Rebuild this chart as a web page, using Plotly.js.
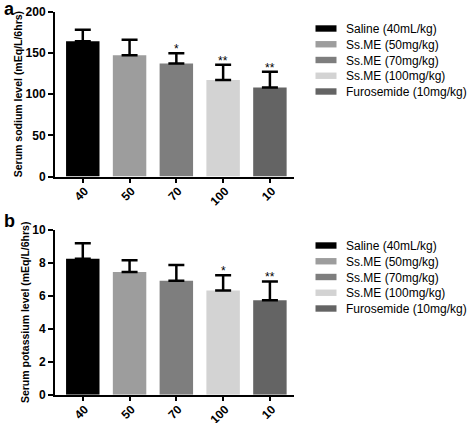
<!DOCTYPE html>
<html>
<head>
<meta charset="utf-8">
<script src="https://cdn.plot.ly/plotly-3.0.1.min.js"></script>
<style>
html,body{margin:0;padding:0;background:#fff;}
#chart{width:472px;height:423px;}
</style>
</head>
<body>
<div id="chart"></div>
<script>
// ---- data ----
const categories = ['40', '50', '70', '100', '10'];
const groups = ['Saline (40mL/kg)', 'Ss.ME (50mg/kg)', 'Ss.ME (70mg/kg)', 'Ss.ME (100mg/kg)', 'Furosemide (10mg/kg)'];
const sodiumMean = [164, 147, 137, 117, 108];
const sodiumErr = [14, 19, 12.5, 18.5, 19];
const sodiumSig = ['', '', '*', '**', '**'];
const potassiumMean = [8.25, 7.45, 6.92, 6.33, 5.73];
const potassiumErr = [0.95, 0.72, 0.95, 0.92, 1.15];
const potassiumSig = ['', '', '', '*', '**'];
const colors = ['#000000', '#9d9d9d', '#7e7e7e', '#d3d3d3', '#646464'];

const W = 472, H = 423;
const ML = 55, MR = 163;
const PW = W - ML - MR;
const FONT = 'Liberation Sans, Arial, Helvetica, sans-serif';
const px2x = p => (p - ML) / PW;
const px2y = p => 1 - p / H;

const traces = [];
function addPanel(means, errs, xa, ya, legendId) {
  for (let i = 0; i < categories.length; i++) {
    traces.push({
      type: 'bar',
      x: [categories[i]],
      y: [means[i]],
      name: groups[i],
      xaxis: xa, yaxis: ya,
      legend: legendId,
      marker: {color: colors[i], line: {width: 0}},
      error_y: {type: 'data', symmetric: false, array: [errs[i]], arrayminus: [0],
                color: '#000', thickness: 2.5, width: 8},
      hoverinfo: 'skip'
    });
  }
}
addPanel(sodiumMean, sodiumErr, 'x', 'y', 'legend');
addPanel(potassiumMean, potassiumErr, 'x2', 'y2', 'legend2');

const annotations = [];
function addStars(means, errs, sig, xref, yref) {
  for (let i = 0; i < categories.length; i++) {
    if (!sig[i]) continue;
    annotations.push({x: i, y: means[i] + errs[i], xref: xref, yref: yref,
      text: sig[i], showarrow: false, yanchor: 'bottom', yshift: -5,
      font: {family: FONT, size: 12, color: '#000'}});
  }
}
addStars(sodiumMean, sodiumErr, sodiumSig, 'x', 'y');
addStars(potassiumMean, potassiumErr, potassiumSig, 'x2', 'y2');
annotations.push({text: '<b>a</b>', x: px2x(-1.5), y: px2y(0), xref: 'paper', yref: 'paper', xanchor: 'left', yanchor: 'top',
  showarrow: false, font: {family: FONT, size: 18, color: '#000'}, yshift: 3});
annotations.push({text: '<b>b</b>', x: px2x(-1.5), y: px2y(209), xref: 'paper', yref: 'paper', xanchor: 'left', yanchor: 'top',
  showarrow: false, font: {family: FONT, size: 18, color: '#000'}});

const tickFont = {family: FONT, size: 12, color: '#000', weight: 'bold'};
function xaxisCfg(anchor) {
  return {type: 'category', categoryorder: 'array', categoryarray: categories,
    domain: [0, 1], anchor: anchor, range: [-0.594, 4.515], showgrid: false, zeroline: false,
    showline: true, linecolor: '#000', linewidth: 2, ticks: 'outside', ticklen: 4, tickwidth: 2,
    tickcolor: '#000', tickangle: -45, tickfont: tickFont, ticklabelstandoff: -3, ticklabelshift: 2,
    automargin: false, fixedrange: true};
}
function yaxisCfg(anchor, dom, range, dtick, title) {
  return {domain: dom, anchor: anchor, range: range, dtick: dtick, showgrid: false, zeroline: false,
    showline: true, linecolor: '#000', linewidth: 2, ticks: 'outside', ticklen: 5, tickwidth: 2,
    tickcolor: '#000', tickfont: tickFont, automargin: false, fixedrange: true,
    title: {text: title, font: {family: FONT, size: 10.5, color: '#000', weight: 'bold'}, standoff: 1}};
}

const layout = {
  width: W, height: H,
  margin: {l: ML, r: MR, t: 0, b: 0, pad: 0},
  paper_bgcolor: '#fff', plot_bgcolor: '#fff',
  barmode: 'overlay', bargap: 0.285,
  font: {family: FONT, color: '#000'},
  xaxis: xaxisCfg('y'),
  yaxis: yaxisCfg('x', [px2y(176.5), px2y(11.7)], [0, 200], 50, 'Serum sodium level (mEq/L/6hrs)'),
  xaxis2: xaxisCfg('y2'),
  yaxis2: yaxisCfg('x2', [px2y(394.7), px2y(230)], [0, 10], 2, 'Serum potassium level (mEq/L/6hrs)'),
  legend: {x: px2x(322), y: px2y(14), xanchor: 'left', yanchor: 'top', bgcolor: 'rgba(0,0,0,0)',
    font: {family: FONT, size: 12, color: '#000'}, itemclick: false, itemdoubleclick: false},
  legend2: {x: px2x(322), y: px2y(231), xanchor: 'left', yanchor: 'top', bgcolor: 'rgba(0,0,0,0)',
    font: {family: FONT, size: 12, color: '#000'}, itemclick: false, itemdoubleclick: false},
  annotations: annotations,
  showlegend: true
};

Plotly.newPlot('chart', traces, layout, {staticPlot: true, displayModeBar: false}).then(function (gd) {
  // legend styling: wide flat swatches and tighter rows, as in the reference
  gd.querySelectorAll('g.legend, g.legend2').forEach(function (leg) {
    const items = leg.querySelectorAll('g.traces');
    let y0 = null;
    items.forEach(function (it, i) {
      const m = /translate\(([-\d.]+),\s*([-\d.]+)\)/.exec(it.getAttribute('transform') || '');
      if (!m) return;
      if (y0 === null) y0 = parseFloat(m[2]);
      it.setAttribute('transform', 'translate(' + m[1] + ',' + (y0 + i * 15.75) + ')');
      it.querySelectorAll('.legendpoints path').forEach(function (p) {
        p.setAttribute('d', 'M10.5,3.2H-10.5V-3.2H10.5Z');
        p.style.strokeWidth = '0';
      });
    });
  });
});
</script>
</body>
</html>
